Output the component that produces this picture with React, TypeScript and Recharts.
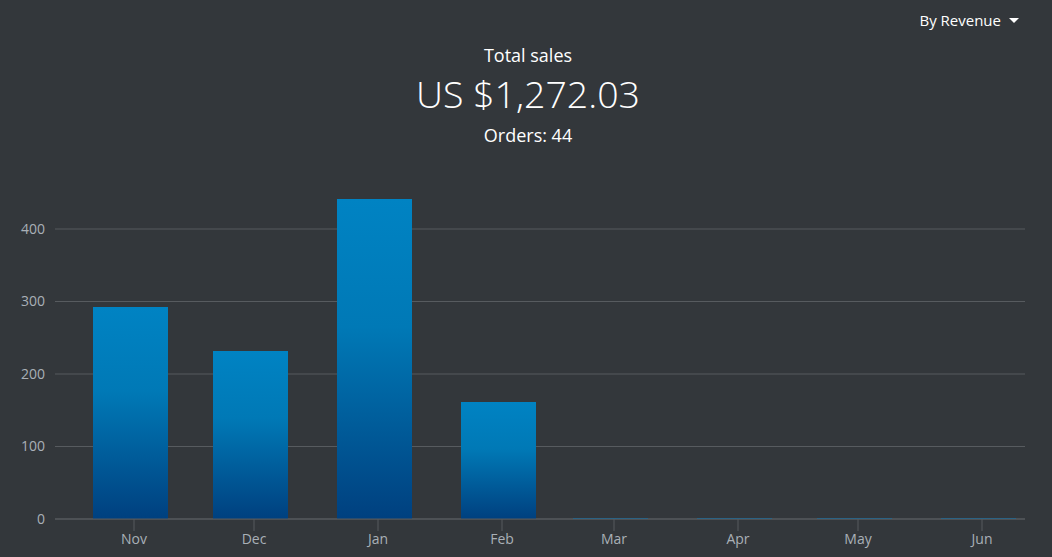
import React from "react";
import { BarChart, Bar, XAxis, YAxis, CartesianGrid } from "recharts";

const months = ["Nov", "Dec", "Jan", "Feb", "Mar", "Apr", "May", "Jun"];
const monthLengths = [30, 31, 31, 28, 31, 30, 31, 30];
const revenue = [292.4, 231.7, 441.4, 161.4, 1.5, 1.5, 1.5, 1.5];
const yTicks = [0, 100, 200, 300, 400];

const monthStarts: number[] = [];
{
  let acc = 0;
  for (let i = 0; i < months.length; i++) {
    monthStarts.push(acc);
    acc += monthLengths[i];
  }
}

const data = months.map((m, i) => ({ x: monthStarts[i] - 1, month: m, value: revenue[i] }));

const BG = "#33373b";
const GRID = "#575b5f";
const TICK = "#a9b0b7";
const FONT = "'Open Sans', 'Noto Sans', sans-serif";

export default function App() {
  return (
    <div
      style={{
        position: "fixed",
        left: 0,
        top: 0,
        width: 1052,
        height: 557,
        background: BG,
        fontFamily: FONT,
        overflow: "hidden",
      }}
    >
      <div
        style={{
          position: "absolute",
          right: 33,
          top: 9,
          color: "#ffffff",
          fontSize: 15,
          lineHeight: "22px",
          display: "flex",
          alignItems: "center",
        }}
      >
        <span>By Revenue</span>
        <span
          style={{
            display: "inline-block",
            marginLeft: 8,
            width: 0,
            height: 0,
            borderLeft: "5px solid transparent",
            borderRight: "5px solid transparent",
            borderTop: "5px solid #ffffff",
          }}
        />
      </div>
      <div
        style={{
          position: "absolute",
          left: 0,
          width: 1056,
          top: 43,
          textAlign: "center",
          color: "#ffffff",
        }}
      >
        <div style={{ fontSize: 18, lineHeight: "24px" }}>Total sales</div>
        <div style={{ fontSize: 37.5, lineHeight: "50px", fontWeight: 300, marginTop: 2 }}>US $1,272.03</div>
        <div style={{ fontSize: 18, lineHeight: "24px", marginTop: 4 }}>Orders: 44</div>
      </div>
      <div style={{ position: "absolute", left: 0, top: 0 }}>
        <BarChart
          width={1052}
          height={557}
          data={data}
          margin={{ top: 156.5, right: 27, bottom: 8, left: 5 }}
        >
          <defs>
            <linearGradient id="barGrad" x1="0" y1="0" x2="0" y2="1">
              <stop offset="0" stopColor="#0083c3" />
              <stop offset="0.4" stopColor="#0079b6" />
              <stop offset="1" stopColor="#00407f" />
            </linearGradient>
          </defs>
          <CartesianGrid
            vertical={false}
            stroke={GRID}
            strokeWidth={1}
            syncWithTicks
            horizontalValues={yTicks}
          />
          <XAxis
            dataKey="x"
            type="number"
            domain={[-19.75, 222.75]}
            ticks={monthStarts}
            tickFormatter={(v: number) => months[monthStarts.indexOf(v)] ?? ""}
            allowDataOverflow
            height={30}
            stroke={GRID}
            tickSize={12}
            tickMargin={3}
            tick={{ fill: TICK, fontSize: 14, fontFamily: FONT }}
            tickLine={{ stroke: GRID }}
          />
          <YAxis
            type="number"
            domain={[0, 500]}
            ticks={yTicks}
            width={50}
            axisLine={false}
            tickLine={false}
            tickMargin={4}
            tick={{ fill: TICK, fontSize: 14, fontFamily: FONT }}
          />
          <Bar dataKey="value" fill="url(#barGrad)" barSize={75} isAnimationActive={false} />
        </BarChart>
      </div>
    </div>
  );
}
